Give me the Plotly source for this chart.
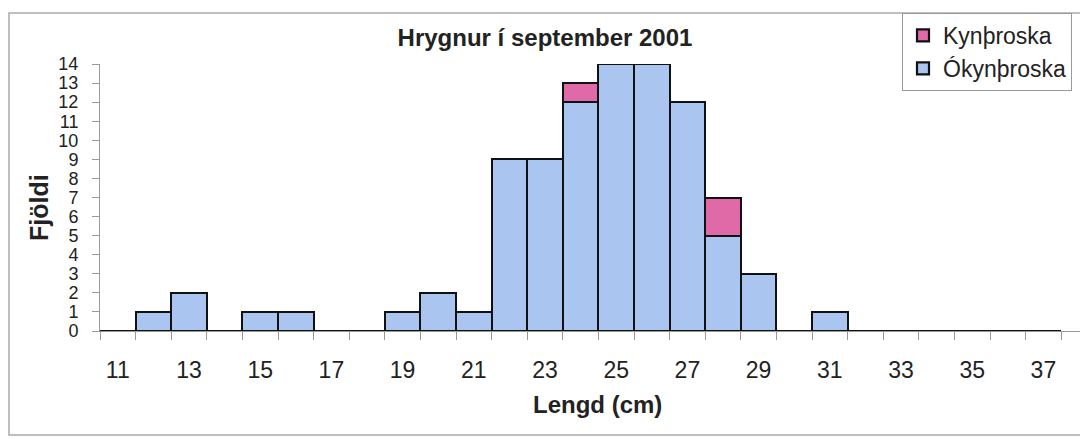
import plotly.graph_objects as go

lengths = list(range(11, 38))
okynthroska = [0, 1, 2, 0, 1, 1, 0, 0, 1, 2, 1, 9, 9, 12, 14, 14, 12, 5, 3, 0, 1, 0, 0, 0, 0, 0, 0]
kynthroska = [0, 0, 0, 0, 0, 0, 0, 0, 0, 0, 0, 0, 0, 1, 0, 0, 0, 2, 0, 0, 0, 0, 0, 0, 0, 0, 0]
x_ticks = list(range(11, 38, 2))
y_ticks = list(range(0, 15))

title_text = "Hrygnur í september 2001"
x_title = "Lengd (cm)"
y_title = "Fjöldi"

FONT = "Liberation Sans, Arial, sans-serif"
BLUE = "#a9c5f0"
PINK = "#e06aa8"

OFF = 8  # page body margin
W, H = 1088 - OFF, 439 - OFF
# plot area in screen pixels
SL, SR, ST, SB = 100, 1088, 64, 331
L, R, T, B = SL - OFF, 0, ST - OFF, H - (SB - OFF)
pw = SR - SL
ph = SB - ST


def px_x(p):
    return (p - SL) / pw


def px_y(p):
    return (SB - p) / ph


fig = go.Figure()
fig.add_trace(go.Bar(
    x=lengths, y=okynthroska, name="Ókynþroska", width=1,
    marker=dict(color=BLUE, line=dict(color="#111111", width=2.2)),
))
fig.add_trace(go.Bar(
    x=lengths, y=kynthroska, name="Kynþroska", width=1,
    marker=dict(color=PINK, line=dict(color="#111111", width=2.2)),
))

fig.update_layout(
    width=W, height=H,
    margin=dict(l=L, r=R, t=T, b=B),
    barmode="stack", bargap=0,
    paper_bgcolor="white", plot_bgcolor="white",
    font=dict(family=FONT, size=21, color="#222222"),
    title=dict(text="<b>" + title_text + "</b>", x=px_x(545), y=1 - (38 - OFF) / H,
               xanchor="center", yanchor="middle", xref="paper",
               font=dict(size=24, color="#222222")),
    legend=dict(x=px_x(902), y=px_y(13), xanchor="left", yanchor="top",
                bordercolor="#999999", borderwidth=1, bgcolor="white",
                traceorder="reversed", font=dict(size=23),
                itemwidth=30, tracegroupgap=0),
    showlegend=True,
)

fig.update_xaxes(
    range=[10.5, 10.5 + pw / 35.6],
    tickmode="array", tickvals=x_ticks, ticktext=[str(v) for v in x_ticks],
    ticks="", ticklabelstandoff=18,
    showline=True, linecolor="#999999", linewidth=1,
    showgrid=False, zeroline=False,
    minor=dict(tickmode="linear", tick0=10.5, dtick=1, ticks="outside",
               ticklen=8, tickcolor="#999999", showgrid=False),
    tickfont=dict(size=23),
)
fig.update_yaxes(
    range=[0, 14],
    tickmode="array", tickvals=y_ticks,
    ticks="outside", ticklen=7, tickcolor="#999999", ticklabelstandoff=10,
    showline=True, linecolor="#999999", linewidth=1,
    showgrid=False, zeroline=False,
    tickfont=dict(size=18),
)

fig.add_annotation(text="<b>" + x_title + "</b>", x=px_x(597), y=px_y(404),
                   xref="paper", yref="paper", showarrow=False,
                   xanchor="center", yanchor="middle", font=dict(size=24))
fig.add_annotation(text="<b>" + y_title + "</b>", x=px_x(39), y=px_y(208),
                   xref="paper", yref="paper", showarrow=False, textangle=-90,
                   xanchor="center", yanchor="middle", font=dict(size=25))

fig.add_shape(type="rect", xref="paper", yref="paper",
              x0=px_x(9), x1=px_x(1087), y0=px_y(435), y1=px_y(13),
              line=dict(color="#aaaaaa", width=1.5), layer="below")

fig.write_html("out.html")
